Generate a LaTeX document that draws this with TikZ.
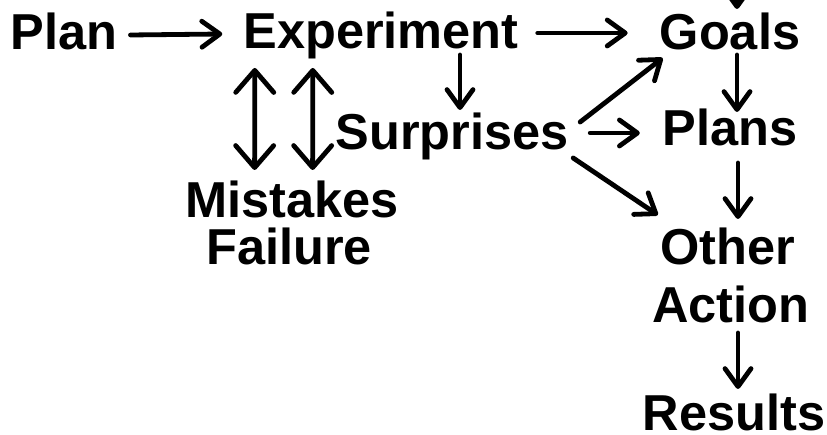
\documentclass[tikz,border=0pt]{standalone}
\usepackage{fontspec}
\setmainfont{Liberation Sans}
\usetikzlibrary{arrows.meta}
\begin{document}
\begin{tikzpicture}[x=1pt,y=1pt,
  lbl/.style={anchor=base, inner sep=0pt, font=\fontsize{50.5}{58}\selectfont\bfseries},
  arr/.style={line width=4.8pt, line cap=round, -{Straight Barb[round,length=18pt,width=26pt]}},
  darr/.style={line width=4.8pt, line cap=round, {Straight Barb[round,length=22pt,width=38pt]}-{Straight Barb[round,length=22pt,width=38pt]}}]
\useasboundingbox (0,0) rectangle (827,435);
\node[lbl] (plan) at (64,385) {Plan};
\node[lbl] (exp) at (381,386) {Experiment};
\node[lbl] (goals) at (730,385) {Goals};
\node[lbl] (surp) at (452,285) {Surprises};
\node[lbl] (plans) at (730,289) {Plans};
\node[lbl] (mist) at (292,217) {Mistakes};
\node[lbl] (fail) at (289,170) {Failure};
\node[lbl] (other) at (728,170) {Other};
\node[lbl] (action) at (731,112) {Action};
\node[lbl] (results) at (734,4) {Results};
\coordinate (topin) at (737,450);
% arrows
\draw[arr] ([shift={(13,15)}]plan.base east) -- ([shift={(-21,15)}]exp.base west);
\draw[arr] ([shift={(19,16)}]exp.base east) -- ([shift={(-32,17)}]goals.base west);
\draw[arr] (topin) -- ([shift={(7,41)}]goals.base);
\draw[arr] ([shift={(7,-5)}]goals.base) -- ([shift={(7,34)}]plans.base);
\draw[arr] ([shift={(8,-17)}]plans.base) -- ([shift={(10,46)}]other.base);
\draw[arr] ([shift={(7,-10)}]action.base) -- ([shift={(4,42)}]results.base);
\draw[arr] ([shift={(79,-6)}]exp.base) -- ([shift={(8,40)}]surp.base);
\draw[darr] ([shift={(11.5,-19)}]exp.base west) -- ([shift={(69.5,48)}]mist.base west);
\draw[darr] ([shift={(69.5,-19)}]exp.base west) -- ([shift={(127.5,48)}]mist.base west);
\draw[arr] ([shift={(11.5,28)}]surp.base east) -- ([shift={(3,-8)}]goals.base west);
\draw[arr] ([shift={(21.5,17)}]surp.base east) -- ([shift={(-22.6,13)}]plans.base west);
\draw[arr] ([shift={(4.5,-8)}]surp.base east) -- ([shift={(-2.6,50)}]other.base west);
\end{tikzpicture}
\end{document}
